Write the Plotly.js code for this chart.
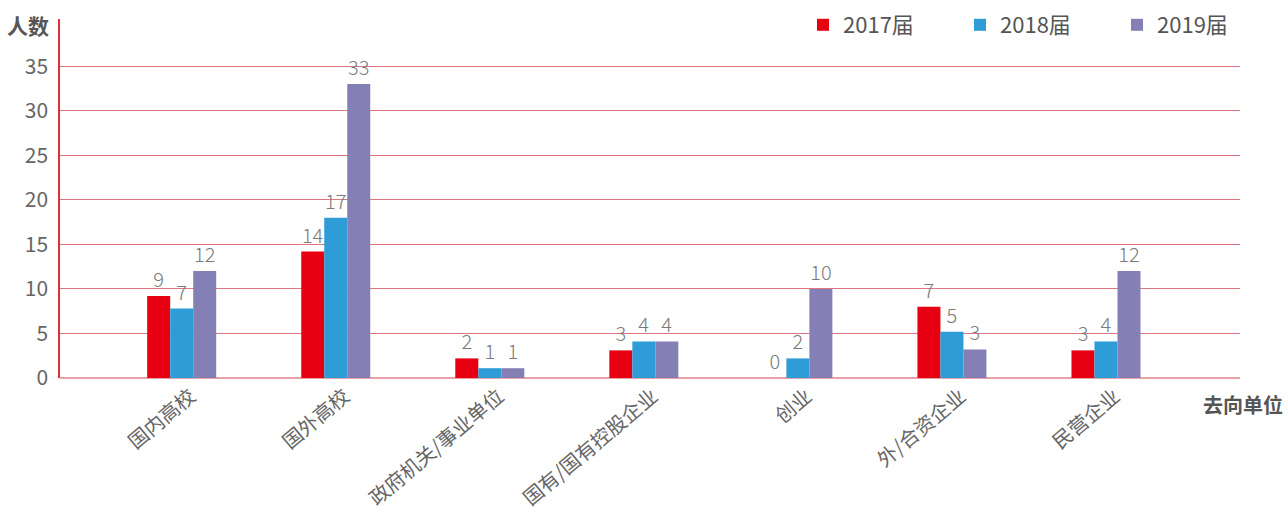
<!DOCTYPE html>
<html>
<head>
<meta charset="utf-8">
<script src="https://cdn.plot.ly/plotly-3.0.1.min.js"></script>
<style>html,body{margin:0;padding:0;background:#fff;}#chart{width:1288px;height:515px;}</style>
</head>
<body>
<div id="chart"></div>
<script>
const categories = ["国内高校", "国外高校", "政府机关/事业单位", "国有/国有控股企业", "创业", "外/合资企业", "民营企业"];
const seriesNames = ["2017届", "2018届", "2019届"];
// bar heights as drawn in the picture
const bars2017 = [9.2, 14.2, 2.2, 3.1, 0, 8, 3.1];
const bars2018 = [7.8, 18, 1.1, 4.1, 2.2, 5.2, 4.1];
const bars2019 = [12, 33, 1.1, 4.1, 10, 3.2, 12];
// value labels as printed
const labels2017 = [9, 14, 2, 3, 0, 7, 3];
const labels2018 = [7, 17, 1, 4, 2, 5, 4];
const labels2019 = [12, 33, 1, 4, 10, 3, 12];
const yTicks = [0, 5, 10, 15, 20, 25, 30, 35];
const colors = ["#e60012", "#2e9cd6", "#8480b5"];

const FONT = "Noto Sans CJK SC, Noto Sans, sans-serif";
const series = [[bars2017, labels2017], [bars2018, labels2018], [bars2019, labels2019]];
const traces = series.map((s, i) => ({
  type: "bar",
  name: seriesNames[i],
  x: categories,
  y: s[0],
  text: s[1].map(String),
  textposition: "outside",
  cliponaxis: false,
  textfont: {family: FONT, size: 20, color: "#7a7a7a", weight: 300},
  marker: {color: colors[i]},
  hoverinfo: "x+y+name"
}));

const layout = {
  width: 1288, height: 515,
  margin: {l: 60, r: 48, t: 19, b: 137, autoexpand: false},
  paper_bgcolor: "#fff", plot_bgcolor: "#fff",
  barmode: "group",
  bargap: 0.552,
  bargroupgap: 0,
  font: {family: FONT, color: "#666"},
  showlegend: true,
  legend: {
    orientation: "h",
    xref: "container", yref: "container",
    x: 803 / 1288, y: 1 - 4 / 515, xanchor: "left", yanchor: "top",
    font: {family: FONT, size: 22, color: "#555"},
    entrywidth: 112, entrywidthmode: "pixels",
    bgcolor: "rgba(0,0,0,0)"
  },
  xaxis: {
    type: "category",
    range: [-0.79, 6.87],
    tickangle: -40,
    tickfont: {family: FONT, size: 20, color: "#666"},
    ticklabelshift: 9,
    ticklabelstandoff: 2,
    showgrid: false, zeroline: false, showline: false,
    ticks: "", fixedrange: true
  },
  yaxis: {
    range: [0, 40.3],
    tickvals: yTicks,
    ticktext: yTicks.map(String),
    tickfont: {family: FONT, size: 21, color: "#666"},
    showgrid: true, gridcolor: "#dc7580", gridwidth: 1,
    zeroline: true, zerolinecolor: "#e6a0a6", zerolinewidth: 2,
    showline: true, linecolor: "#e0303f", linewidth: 1.5,
    ticks: "", ticklabelstandoff: 6, fixedrange: true
  },
  annotations: [
    {text: "人数", xref: "paper", yref: "paper", x: -0.008, y: 0.983, xanchor: "right", yanchor: "middle",
     showarrow: false, font: {family: FONT, size: 21, color: "#555", weight: "bold"}},
    {text: "去向单位", xref: "paper", yref: "paper", x: 1.0025, y: -0.075, xanchor: "center", yanchor: "middle",
     showarrow: false, font: {family: FONT, size: 20, color: "#555", weight: "bold"}}
  ]
};

Plotly.newPlot("chart", traces, layout, {displayModeBar: false});
</script>
</body>
</html>
